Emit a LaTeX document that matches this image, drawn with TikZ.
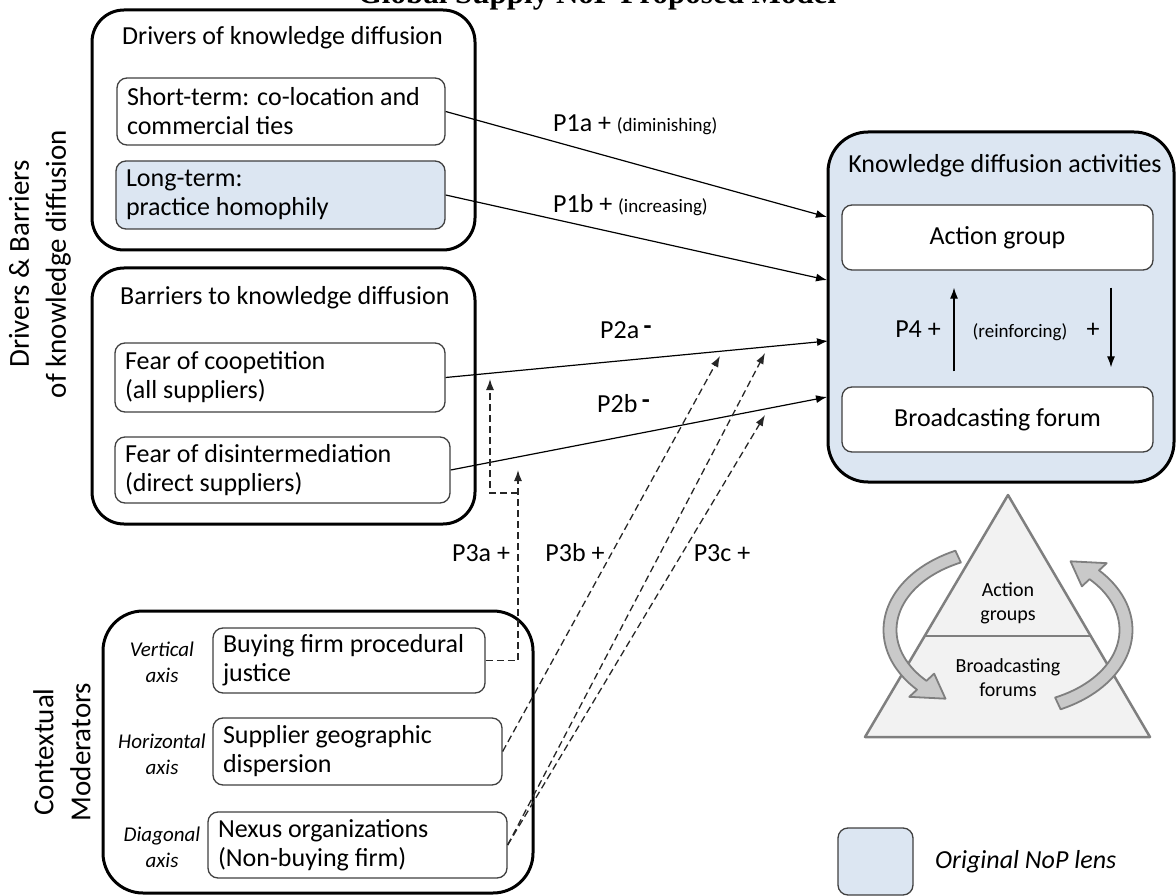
\documentclass[tikz,border=0pt]{standalone}
\usepackage{fontspec}
\setmainfont{Carlito}
\newfontfamily\titlefont{Liberation Serif}
\usetikzlibrary{arrows.meta}
\definecolor{nopblue}{HTML}{DCE6F2}
\definecolor{boxline}{HTML}{404040}
\definecolor{pyrfill}{HTML}{F2F2F2}
\definecolor{pyrline}{HTML}{7F7F7F}
\definecolor{loopfill}{HTML}{C9C9C9}
\newcommand\smallfnt{\fontsize{19}{22}\selectfont}

\begin{document}
\begin{tikzpicture}[x=1pt,y=-1pt]
\tikzstyle{every node}=[inner sep=0pt,font=\fontsize{26}{29}\selectfont]
\tikzstyle{outbox}=[draw,line width=3pt,rounded corners=32pt]
\tikzstyle{inbox}=[draw=boxline,line width=1.3pt,rounded corners=10pt,fill=white,inner xsep=10pt,align=flush left]
\tikzstyle{smalltxt}=[font=\smallfnt]
\tikzstyle{axislbl}=[font=\fontsize{21}{26}\selectfont\itshape,align=center]
\tikzstyle{sidelbl}=[font=\fontsize{29}{37}\selectfont,align=center,rotate=90]
\tikzstyle{pyrtxt}=[font=\fontsize{20}{24}\selectfont,align=center]
\tikzstyle{prop}=[line width=1.2pt,-{Latex[length=11pt,width=8pt]}]
\tikzstyle{moder}=[prop,draw=black!85,line width=1.3pt,dash pattern=on 7pt off 4pt]
\tikzstyle{pyramid}=[draw=pyrline,line width=2.5pt,fill=pyrfill,line join=round]
\tikzstyle{loop}=[draw=pyrline,line width=1.8pt,fill=loopfill,line join=round]
\useasboundingbox (0,0) rectangle (1176,896);
\node[anchor=base,font=\titlefont\bfseries\fontsize{31}{36}\selectfont] (title) at (597,4) {Global Supply NoP Proposed Model};
\node[sidelbl] (dblab) at (40,264) {Drivers \& Barriers\\of knowledge diffusion};
\node[sidelbl] (cmlab) at (62,752) {Contextual\\Moderators};
\node[outbox,minimum width=383pt,minimum height=240pt] (drv) at (283.5,130) {};
\node[anchor=base west] (drvtitle) at (122,45) {Drivers of knowledge diffusion};
\node[inbox,minimum width=328pt,minimum height=67pt,text width=308pt] (short) at (281,111.5) {Short-term: co-location and\\commercial ties};
\node[inbox,fill=nopblue,minimum width=329pt,minimum height=68pt,text width=309pt] (long) at (280.5,195) {Long-term:\\practice homophily};
\node[outbox,minimum width=383pt,minimum height=256pt] (bar) at (283.5,396) {};
\node[anchor=base west] (bartitle) at (120,305) {Barriers to knowledge diffusion};
\node[inbox,minimum width=330pt,minimum height=69pt,text width=310pt] (coop) at (280,377.5) {Fear of coopetition\\(all suppliers)};
\node[inbox,minimum width=335pt,minimum height=66pt,text width=315pt] (disint) at (282.5,470) {Fear of disintermediation\\(direct suppliers)};
\node[outbox,rounded corners=40pt,minimum width=430pt,minimum height=282pt] (mod) at (318,752) {};
\node[inbox,minimum width=272pt,minimum height=65pt,text width=252pt] (buy) at (349,660.5) {Buying firm procedural\\justice};
\node[inbox,minimum width=289pt,minimum height=67pt,text width=269pt] (disp) at (357.5,751.5) {Supplier geographic\\dispersion};
\node[inbox,minimum width=299pt,minimum height=66pt,text width=279pt] (nexus) at (357.5,845) {Nexus organizations\\(Non-buying firm)};
\node[axislbl] (vax) at (162,662) {Vertical\\axis};
\node[axislbl] (hax) at (162,754) {Horizontal\\axis};
\node[axislbl] (dax) at (162,847) {Diagonal\\axis};
\node[outbox,rounded corners=40pt,fill=nopblue,minimum width=346pt,minimum height=350pt] (kda) at (1001,307) {};
\node[anchor=base] (kdatitle) at (1005,173) {Knowledge diffusion activities};
\node[inbox,align=center,minimum width=311pt,minimum height=65pt] (act) at (997.5,237.5) {Action group};
\node[inbox,align=center,minimum width=311pt,minimum height=65pt] (broad) at (997.5,419.5) {Broadcasting forum};
\draw[prop] ([xshift=-43.5pt,yshift=15pt]broad.north) -- ([xshift=-43.5pt,yshift=-17pt]act.south);
\draw[prop] ([xshift=113.5pt,yshift=-17pt]act.south) -- ([xshift=113.5pt,yshift=19pt]broad.north);
\node[anchor=base] (p4) at (918,337) {P4 +};
\node[smalltxt,anchor=base] (reinf) at (1020,337) {(reinforcing)};
\node[anchor=base] (p4plus) at (1093,337) {+};
\coordinate (k1) at (827,217);
\coordinate (k2) at (827,280);
\coordinate (k3) at (828,341);
\coordinate (k4) at (827,397);
\draw[prop] (short.east) -- (k1);
\draw[prop] (long.east) -- (k2);
\draw[prop] (coop.east) -- (k3);
\draw[prop] (disint.east) -- (k4);
\node[anchor=base west] (p1a) at (553,132) {P1a + {\smallfnt (diminishing)}};
\node[anchor=base west] (p1b) at (553,213) {P1b + {\smallfnt (increasing)}};
\node[anchor=base west] (p2a) at (600,338) {P2a\,\raisebox{4pt}{\textbf{-}}};
\node[anchor=base west] (p2b) at (597,412) {P2b\,\raisebox{4pt}{\textbf{-}}};
\coordinate (t3a) at (518,470);
\coordinate (j3a) at (518,493);
\coordinate (t3a2) at (490,379);
\coordinate (t3b) at (720,356);
\coordinate (t3c1) at (765,353);
\coordinate (t3c2) at (765,415);
\draw[moder] (buy.east) -| (t3a);
\draw[moder] (j3a) -| (t3a2);
\draw[moder] (disp.east) -- (t3b);
\draw[moder] (nexus.east) -- (t3c1);
\draw[moder] (nexus.east) -- (t3c2);
\node[anchor=base] (p3a) at (481,561) {P3a +};
\node[anchor=base] (p3b) at (575,561) {P3b +};
\node[anchor=base] (p3c) at (722,561) {P3c +};
\draw[pyramid] (1008,495) -- (1150,737) -- (865,737) -- cycle;
\draw[pyramid] (924.7,636) -- (1090.7,636);
\node[pyrtxt] (pag) at (1008,603) {Action\\groups};
\node[pyrtxt] (pbf) at (1008,678) {Broadcasting\\forums};
\draw[loop] plot[domain=245:137,samples=40,variable=\t] ({1008+124.5*cos(\t)},{630+87.5*sin(\t)}) -- ({1008+135*cos(137)},{630+98*sin(137)}) -- ({1008+118*cos(122)},{630+81*sin(122)}) -- ({1008+101*cos(137)},{630+64*sin(137)}) -- plot[domain=137:245,samples=40,variable=\t] ({1008+111.5*cos(\t)},{630+74.5*sin(\t)}) -- cycle;
\draw[loop] plot[domain=65:-43,samples=40,variable=\t] ({1008+124.5*cos(\t)},{630+87.5*sin(\t)}) -- ({1008+135*cos(-43)},{630+98*sin(-43)}) -- ({1008+118*cos(-58)},{630+81*sin(-58)}) -- ({1008+101*cos(-43)},{630+64*sin(-43)}) -- plot[domain=-43:65,samples=40,variable=\t] ({1008+111.5*cos(\t)},{630+74.5*sin(\t)}) -- cycle;
\node[draw=boxline,line width=1.3pt,fill=nopblue,rounded corners=10pt,minimum width=75pt,minimum height=67pt] (leg) at (875.5,861.5) {};
\node[anchor=base west,font=\fontsize{26}{29}\selectfont\itshape] (legtxt) at (935,868) {Original NoP lens};
\end{tikzpicture}
\end{document}
